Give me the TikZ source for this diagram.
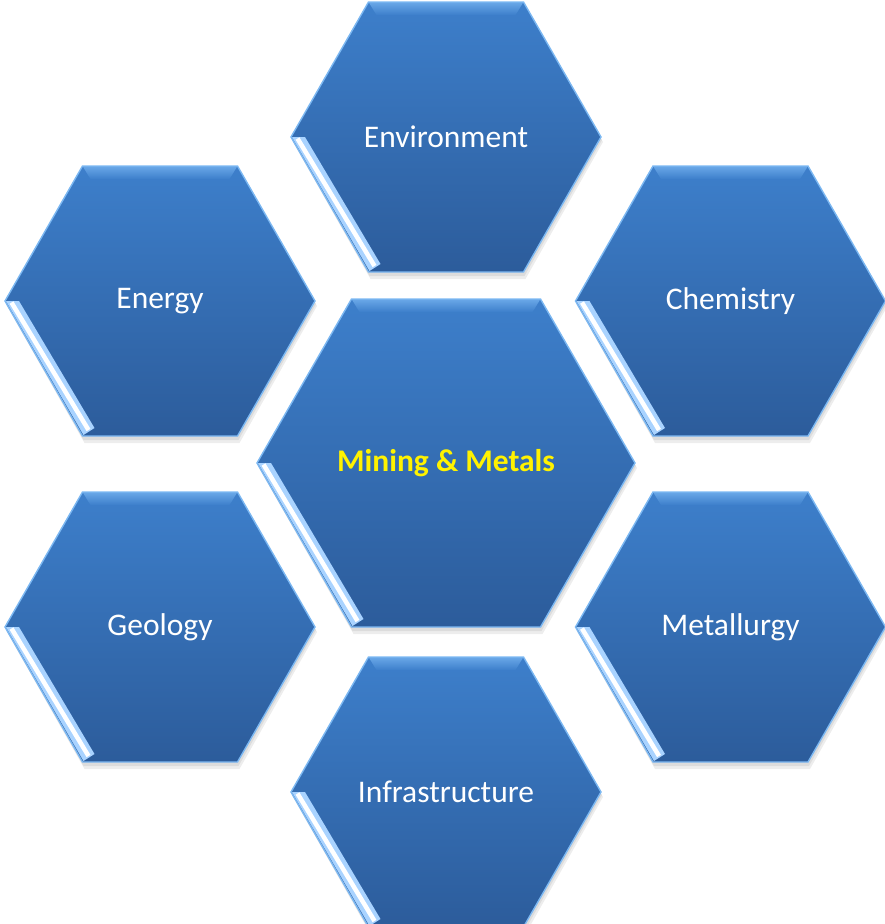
\documentclass[tikz,border=0pt]{standalone}
\usepackage{fontspec}
\setmainfont{Carlito}
\definecolor{hextop}{HTML}{3D7FCB}
\definecolor{hexmid}{HTML}{3570B7}
\definecolor{hexbot}{HTML}{2C5C9B}
\definecolor{hexedge}{HTML}{7CB8F2}
\definecolor{hexband}{HTML}{6AA8E8}
\definecolor{hexglow}{HTML}{A9D3FF}
\tikzset{
  hexlabel/.style={text=white,font=\fontsize{31.5}{35}\selectfont,inner sep=0pt},
  hublabel/.style={text=yellow,font=\bfseries\fontsize{31.5}{35}\selectfont,inner sep=0pt},
  hexshadow/.style={fill=black,opacity=0.07},
  hexrim/.style={draw=hexedge,line width=1.4pt,line join=miter},
}
% #1 name, #2 cx, #3 cy, #4 half width, #5 half height, #6 text, #7 label style
\newcommand\hexa[7]{%
  \begin{scope}[shift={(#2,#3)}]
    \fill[hexshadow] (-#4+1,3) -- ({-#4/2+1},{-#5+3}) -- ({#4/2+1},{-#5+3}) -- (#4+1,3) -- ({#4/2+1},{#5+4}) -- ({-#4/2+1},{#5+4}) -- cycle;
    \fill[hexshadow] (-#4+2,5) -- ({-#4/2+2},{-#5+5}) -- ({#4/2+2},{-#5+5}) -- (#4+2,5) -- ({#4/2+2},{#5+7}) -- ({-#4/2+2},{#5+7}) -- cycle;
    \shade[top color=hextop,middle color=hexmid,bottom color=hexbot]
      (-#4,0) -- ({-#4/2},-#5) -- ({#4/2},-#5) -- (#4,0) -- ({#4/2},#5) -- ({-#4/2},#5) -- cycle;
    \shade[top color=hexband,bottom color=hextop]
      ({-#4/2},-#5) -- ({#4/2},-#5) -- ({#4/2-8},{-#5+13}) -- ({-#4/2+8},{-#5+13}) -- cycle;
    \draw[hexrim]
      (-#4,0) -- ({-#4/2},-#5) -- ({#4/2},-#5) -- (#4,0) -- ({#4/2},#5) -- ({-#4/2},#5) -- cycle;
    \fill[hexglow] (-#4+1,0) -- (-#4+14,0) -- ({-#4/2+12},{#5-8}) -- ({-#4/2+1},{#5-1}) -- cycle;
    \draw[white,line width=4.5pt] (-#4+6.5,1.5) -- ({-#4/2+6},{#5-6});
  \end{scope}
  \node[#7] (#1) at (#2,#3) {#6};
}
\begin{document}
\begin{tikzpicture}[x=1pt,y=-1pt]
  \useasboundingbox (0,0) rectangle (885,924);
  \hexa{env}{446}{137}{155}{135}{Environment}{hexlabel}
  \hexa{energy}{160}{301}{155}{135}{Energy}{hexlabel}
  \hexa{chem}{730.5}{301}{155}{135}{Chemistry}{hexlabel}
  \hexa{mining}{446}{463}{189}{164}{Mining \& Metals}{hublabel}
  \hexa{geo}{160}{627}{155}{135}{Geology}{hexlabel}
  \hexa{metal}{730.5}{627}{155}{135}{Metallurgy}{hexlabel}
  \hexa{infra}{446}{792}{155}{135}{Infrastructure}{hexlabel}
\end{tikzpicture}
\end{document}
